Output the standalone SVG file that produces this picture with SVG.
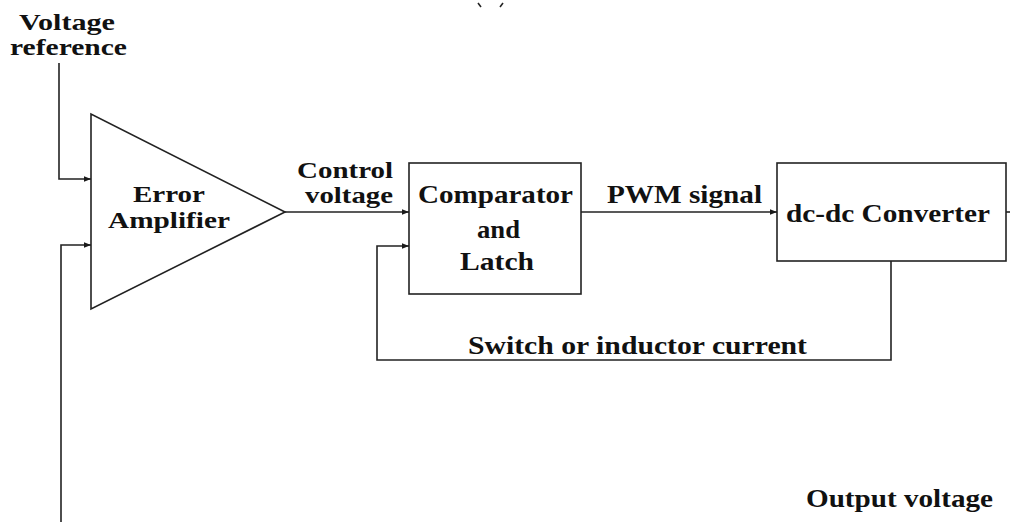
<svg xmlns="http://www.w3.org/2000/svg" width="1010" height="522" viewBox="0 0 1010 522">
<defs>
<marker id="arr" viewBox="0 0 10 10" refX="10" refY="5" markerWidth="10" markerHeight="7" markerUnits="userSpaceOnUse" orient="auto">
<path d="M0,1 L10,5 L0,9 Z" fill="#1a1a1a"/>
</marker>
</defs>
<style>
.t{font-family:"Liberation Serif","Times New Roman",serif;font-weight:bold;font-size:26px;fill:#111;}
.u{font-size:23px;}
.s{fill:none;stroke:#222;stroke-width:1.6;}
.b{fill:#fff;stroke:#222;stroke-width:1.6;}
</style>
<rect width="1010" height="522" fill="#fff"/>
<g id="label-reference">
<text class="t u" x="19" y="30" textLength="96" lengthAdjust="spacingAndGlyphs">Voltage</text>
<text class="t u" x="10" y="55" textLength="117" lengthAdjust="spacingAndGlyphs">reference</text>
</g>
<g id="error-amplifier">
<polygon class="b" points="91,114 91,309 285,212"/>
<text class="t u" x="133" y="202" textLength="72" lengthAdjust="spacingAndGlyphs">Error</text>
<text class="t u" x="108" y="228" textLength="122" lengthAdjust="spacingAndGlyphs">Amplifier</text>
</g>
<g id="comparator">
<rect class="b" x="409" y="163" width="172" height="131"/>
<text class="t" x="418" y="203" textLength="155" lengthAdjust="spacingAndGlyphs">Comparator</text>
<text class="t" x="477" y="238" textLength="43" lengthAdjust="spacingAndGlyphs">and</text>
<text class="t" x="460" y="270" textLength="74" lengthAdjust="spacingAndGlyphs">Latch</text>
</g>
<g id="converter">
<rect class="b" x="777" y="163" width="229" height="98"/>
<text class="t" x="786" y="222" textLength="204" lengthAdjust="spacingAndGlyphs">dc-dc Converter</text>
</g>
<g id="connectors">
<polyline class="s" points="59,63 59,179 91,179" marker-end="url(#arr)"/>
<polyline class="s" points="61,522 61,245 91,245" marker-end="url(#arr)"/>
<line class="s" x1="285" y1="212" x2="409" y2="212" marker-end="url(#arr)"/>
<line class="s" x1="581" y1="212" x2="777" y2="212" marker-end="url(#arr)"/>
<line class="s" x1="1006" y1="212" x2="1010" y2="212"/>
<polyline class="s" points="891,261 891,360 377,360 377,246 409,246" marker-end="url(#arr)"/>
<line class="s" x1="478" y1="3" x2="481" y2="7" stroke-width="1.2" stroke="#888"/>
<line class="s" x1="503" y1="3" x2="500" y2="7" stroke-width="1.2" stroke="#888"/>
</g>
<g id="labels">
<text class="t u" x="297" y="178" textLength="96" lengthAdjust="spacingAndGlyphs">Control</text>
<text class="t u" x="305" y="203" textLength="88" lengthAdjust="spacingAndGlyphs">voltage</text>
<text class="t" x="607" y="203" textLength="155" lengthAdjust="spacingAndGlyphs">PWM signal</text>
<text class="t" x="468" y="354" textLength="339" lengthAdjust="spacingAndGlyphs">Switch or inductor current</text>
<text class="t" x="806" y="507" textLength="187" lengthAdjust="spacingAndGlyphs">Output voltage</text>
</g>
</svg>
